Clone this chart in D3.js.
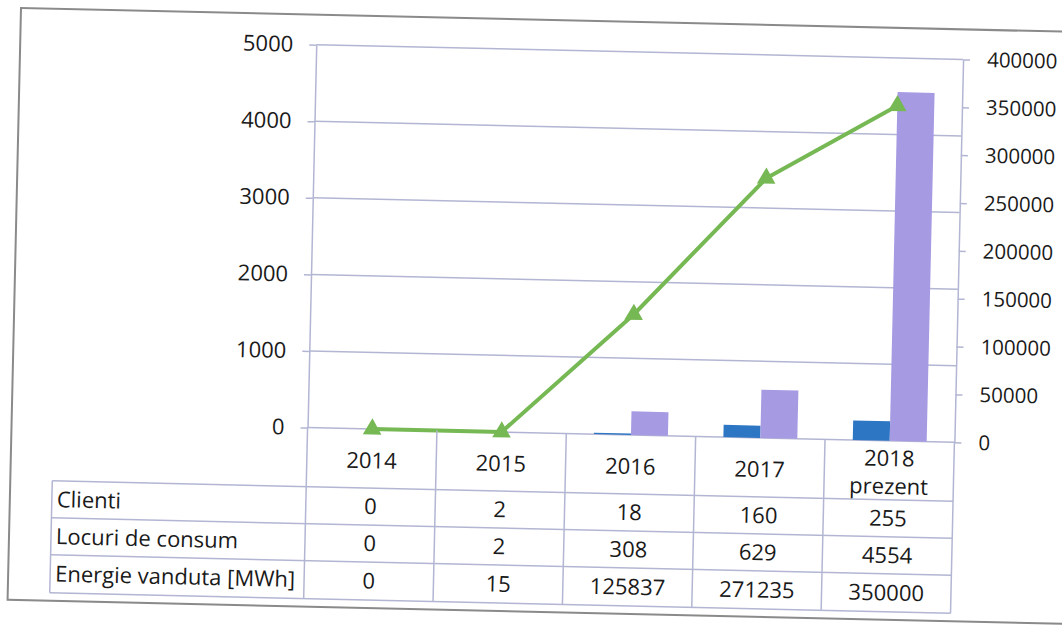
<!DOCTYPE html>
<html>
<head>
<meta charset="utf-8">
<script src="https://cdn.jsdelivr.net/npm/d3@7"></script>
<style>
  html, body { margin: 0; padding: 0; background: #ffffff; }
  svg { display: block; }
  text { font-family: "Open Sans", "Noto Sans", sans-serif; fill: #1a1a1a; }
</style>
</head>
<body>
<svg id="chart" width="1062" height="626"></svg>
<script>
// ---------- data ----------
const categories = ["2014", "2015", "2016", "2017", "2018 prezent"];
const categoryLines = [["2014"], ["2015"], ["2016"], ["2017"], ["2018", "prezent"]];
const seriesNames = ["Clienti", "Locuri de consum", "Energie vanduta [MWh]"];
const clienti = [0, 2, 18, 160, 255];
const locuri = [0, 2, 308, 629, 4554];
const energie = [0, 15, 125837, 271235, 350000];
const leftTicks = [0, 1000, 2000, 3000, 4000, 5000];
const rightTicks = [0, 50000, 100000, 150000, 200000, 250000, 300000, 350000, 400000];

// ---------- layout ----------
const plot = { left: 317, right: 964, top: 38, bottom: 421 };
const table = { labelLeft: 63, rowTops: [421, 480, 517, 554, 592] };
const colors = { blue: "#2d76c4", purple: "#a69ae2", green: "#76b854", grid: "#b3b6d3", border: "#8a8a8a" };
const fontSize = 22;
const rightFontSize = 20.5;

const svg = d3.select("#chart");
const root = svg.append("g").attr("transform", "rotate(1.3, 21, 8)");

// outer border
root.append("rect").attr("x", 21).attr("y", 8).attr("width", 1075).attr("height", 592)
  .attr("fill", "none").attr("stroke", colors.border).attr("stroke-width", 2);

// scales
const x = d3.scaleBand().domain(categories).range([plot.left, plot.right]).padding(0);
const xSub = d3.scaleBand().domain(["c", "l"]).range([0, x.bandwidth()]).paddingInner(0).paddingOuter(0.75);
const yL = d3.scaleLinear().domain([0, 5000]).range([plot.bottom, plot.top]);
const yR = d3.scaleLinear().domain([0, 400000]).range([plot.bottom, plot.top]);

// gridlines
root.append("g").selectAll("line").data(leftTicks).join("line")
  .attr("x1", plot.left).attr("x2", plot.right)
  .attr("y1", d => yL(d)).attr("y2", d => yL(d))
  .attr("stroke", colors.grid).attr("stroke-width", 1.5);

// bars
const rows = categories.map((c, i) => ({ c, clienti: clienti[i], locuri: locuri[i], energie: energie[i] }));
root.append("g").selectAll("rect").data(rows).join("rect")
  .attr("x", d => x(d.c) + xSub("c")).attr("width", xSub.bandwidth())
  .attr("y", d => yL(d.clienti)).attr("height", d => yL(0) - yL(d.clienti))
  .attr("fill", colors.blue);
root.append("g").selectAll("rect").data(rows).join("rect")
  .attr("x", d => x(d.c) + xSub("l")).attr("width", xSub.bandwidth())
  .attr("y", d => yL(d.locuri)).attr("height", d => yL(0) - yL(d.locuri))
  .attr("fill", colors.purple);

// axes
const axL = root.append("g").attr("transform", `translate(${plot.left},0)`)
  .call(d3.axisLeft(yL).tickValues(leftTicks).tickSize(7).tickSizeOuter(0).tickPadding(16).tickFormat(d3.format("d")));
const axR = root.append("g").attr("transform", `translate(${plot.right},0)`)
  .call(d3.axisRight(yR).tickValues(rightTicks).tickSize(7).tickSizeOuter(0).tickPadding(17).tickFormat(d3.format("d")));
[axL, axR].forEach(a => {
  a.select(".domain").attr("stroke", colors.grid).attr("stroke-width", 1.5);
  a.selectAll(".tick line").attr("stroke", colors.grid).attr("stroke-width", 1.5);
  a.selectAll(".tick text").attr("font-family", "Open Sans").attr("fill", "#1a1a1a");
});
axL.selectAll(".tick text").attr("font-size", fontSize);
axR.selectAll(".tick text").attr("font-size", rightFontSize);

// line + markers
const lineGen = d3.line().x((d) => x(d.c) + x.bandwidth() / 2).y(d => yR(d.energie));
root.append("path").datum(rows).attr("d", lineGen)
  .attr("fill", "none").attr("stroke", colors.green).attr("stroke-width", 4).attr("stroke-linejoin", "round");
root.append("g").selectAll("path").data(rows).join("path")
  .attr("transform", d => `translate(${x(d.c) + x.bandwidth() / 2},${yR(d.energie)})`)
  .attr("d", d3.symbol(d3.symbolTriangle, 150)())
  .attr("fill", colors.green);

// data table
const tg = root.append("g");
const rt = table.rowTops;
tg.selectAll("line.h").data(rt.slice(1)).join("line").attr("class", "h")
  .attr("x1", table.labelLeft).attr("x2", plot.right)
  .attr("y1", d => d).attr("y2", d => d)
  .attr("stroke", colors.grid).attr("stroke-width", 1.5);
const colEdges = categories.map(c => x(c)).concat([plot.right]);
tg.selectAll("line.v").data(colEdges).join("line").attr("class", "v")
  .attr("x1", d => d).attr("x2", d => d)
  .attr("y1", rt[0]).attr("y2", rt[rt.length - 1])
  .attr("stroke", colors.grid).attr("stroke-width", 1.5);
tg.append("line").attr("x1", table.labelLeft).attr("x2", table.labelLeft)
  .attr("y1", rt[1]).attr("y2", rt[rt.length - 1])
  .attr("stroke", colors.grid).attr("stroke-width", 1.5);

// header
categories.forEach((c, i) => {
  const lines = categoryLines[i];
  const cx = x(c) + x.bandwidth() / 2;
  const cy = (rt[0] + rt[1]) / 2 + 2;
  const lh = 28;
  lines.forEach((t, j) => {
    tg.append("text").attr("x", cx).attr("y", cy + (j - (lines.length - 1) / 2) * lh)
      .attr("dy", "0.35em").attr("text-anchor", "middle").attr("font-size", fontSize).text(t);
  });
});
// rows
const seriesValues = [clienti, locuri, energie];
seriesNames.forEach((name, r) => {
  const cy = (rt[r + 1] + rt[r + 2]) / 2;
  tg.append("text").attr("x", table.labelLeft + 5).attr("y", cy).attr("dy", "0.35em")
    .attr("font-size", fontSize).text(name);
  seriesValues[r].forEach((v, i) => {
    tg.append("text").attr("x", x(categories[i]) + x.bandwidth() / 2).attr("y", cy).attr("dy", "0.35em")
      .attr("text-anchor", "middle").attr("font-size", fontSize).text(v);
  });
});
</script>
</body>
</html>
